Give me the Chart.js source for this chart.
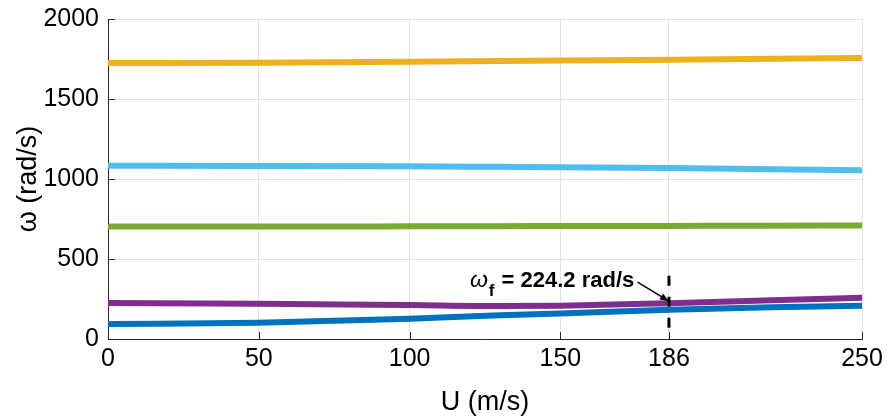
<!DOCTYPE html>
<html>
<head>
<meta charset="utf-8">
<script src="https://cdn.jsdelivr.net/npm/chart.js@4/dist/chart.umd.min.js"></script>
<style>
  html, body { margin: 0; padding: 0; background: #ffffff; overflow: hidden; }
  canvas { display: block; }
</style>
</head>
<body>
<canvas id="c" width="888" height="420"></canvas>
<script>
// ---- data ----
const U = [0, 50, 100, 130, 150, 186, 220, 250];
const mode1 = [94, 102, 127, 148, 160, 183, 198, 208];       // blue
const mode2 = [225, 221, 212, 206, 208, 224, 242, 258];      // purple
const mode3 = [703, 703, 704, 705, 706, 707, 708, 710];      // green
const mode4 = [1083, 1082, 1079, 1076, 1074, 1068, 1061, 1055]; // light blue
const mode5 = [1725, 1727, 1733, 1737, 1740, 1745, 1751, 1757]; // yellow
const xTicks = [0, 50, 100, 150, 186, 250];
const yTicks = [0, 500, 1000, 1500, 2000];
const flutterU = 186;
const flutterLine = [70, 412];
const flutterLabel = "= 224.2 rad/s";

const FONT = "'Liberation Sans', Arial, Helvetica, sans-serif";

function pts(ys) { return U.map((u, i) => ({ x: u, y: ys[i] })); }
function series(ys, color) {
  return {
    data: pts(ys), borderColor: color, backgroundColor: color,
    borderWidth: 6, pointRadius: 0, cubicInterpolationMode: 'monotone',
    borderCapStyle: 'round', order: 1
  };
}

const innerTicks = {
  id: 'innerTicks',
  afterDraw(chart) {
    const ctx = chart.ctx, xs = chart.scales.x, ys = chart.scales.y;
    const a = chart.chartArea;
    ctx.save();
    ctx.strokeStyle = '#262626';
    ctx.lineWidth = 1;
    ctx.beginPath();
    yTicks.forEach(v => {
      const y = Math.round(ys.getPixelForValue(v)) + 0.5;
      ctx.moveTo(a.left, y); ctx.lineTo(a.left + 7, y);
    });
    xTicks.forEach(v => {
      const x = Math.round(xs.getPixelForValue(v)) + 0.5;
      ctx.moveTo(x, a.bottom); ctx.lineTo(x, a.bottom - 7);
    });
    ctx.stroke();
    ctx.restore();
  }
};

const annot = {
  id: 'annot',
  afterDatasetsDraw(chart) {
    const ctx = chart.ctx, xs = chart.scales.x, ys = chart.scales.y;
    ctx.save();
    ctx.fillStyle = '#000';
    ctx.strokeStyle = '#000';
    const right = xs.getPixelForValue(174.5);
    const base = ys.getPixelForValue(325);
    const f1 = "italic 23px " + FONT, f2 = "bold 17px " + FONT, f3 = "bold 22px " + FONT;
    ctx.font = f1; const w1 = ctx.measureText('ω').width;
    ctx.font = f2; const w2 = ctx.measureText('f').width;
    ctx.font = f3; const w3 = ctx.measureText(' ' + flutterLabel).width;
    let x = right - (w1 + w2 + 2 + w3);
    ctx.textBaseline = 'alphabetic';
    ctx.textAlign = 'left';
    ctx.font = f1; ctx.fillText('ω', x, base); x += w1 + 1;
    ctx.font = f2; ctx.fillText('f', x, base + 9); x += w2 + 1;
    ctx.font = f3; ctx.fillText(' ' + flutterLabel, x, base);
    // arrow
    const x0 = xs.getPixelForValue(175.6), y0 = ys.getPixelForValue(356);
    const x1 = xs.getPixelForValue(185.8), y1 = ys.getPixelForValue(238);
    ctx.lineWidth = 1.5;
    ctx.beginPath(); ctx.moveTo(x0, y0); ctx.lineTo(x1, y1); ctx.stroke();
    const ang = Math.atan2(y1 - y0, x1 - x0), L = 9, W = 0.4;
    ctx.beginPath();
    ctx.moveTo(x1, y1);
    ctx.lineTo(x1 - L * Math.cos(ang - W), y1 - L * Math.sin(ang - W));
    ctx.lineTo(x1 - L * Math.cos(ang + W), y1 - L * Math.sin(ang + W));
    ctx.closePath(); ctx.fill();
    ctx.restore();
  }
};

new Chart(document.getElementById('c'), {
  type: 'line',
  data: {
    datasets: [
      series(mode1, '#0072BD'),
      series(mode2, '#7E2F8E'),
      series(mode3, '#77AC30'),
      series(mode4, '#4DBEEE'),
      series(mode5, '#EDB120'),
      {
        data: [{ x: flutterU, y: flutterLine[0] }, { x: flutterU, y: flutterLine[1] }],
        borderColor: '#000', borderWidth: 3, borderDash: [10, 11],
        pointRadius: 0, order: 0
      }
    ]
  },
  options: {
    responsive: false,
    animation: false,
    devicePixelRatio: 1,
    layout: { padding: { top: 19, right: 26, left: 0, bottom: 0 } },
    plugins: { legend: { display: false }, tooltip: { enabled: false } },
    scales: {
      x: {
        type: 'linear', min: 0, max: 250,
        afterBuildTicks(s) { s.ticks = xTicks.map(v => ({ value: v })); },
        afterFit(s) { s.height = 81; s.paddingLeft = 0; s.paddingRight = 0; },
        grid: { color: '#e3e3e3', drawTicks: false, lineWidth: 1 },
        border: { color: '#262626', width: 1 },
        ticks: { color: '#000', font: { family: FONT, size: 25 }, padding: 5, maxRotation: 0, autoSkip: false,
                 callback: v => String(v) },
        title: { display: true, text: 'U (m/s)', color: '#000', font: { family: FONT, size: 27 }, padding: { top: 1, bottom: 1 } }
      },
      y: {
        type: 'linear', min: 0, max: 2000,
        afterBuildTicks(s) { s.ticks = yTicks.map(v => ({ value: v })); },
        afterFit(s) { s.width = 108; s.paddingTop = 0; s.paddingBottom = 0; },
        grid: { color: '#e3e3e3', drawTicks: false, lineWidth: 1 },
        border: { color: '#262626', width: 1 },
        ticks: { color: '#000', font: { family: FONT, size: 25 }, padding: 9, callback: v => String(v) },
        title: { display: true, text: 'ω (rad/s)', color: '#000', font: { family: FONT, size: 27 }, padding: { top: 12, bottom: 0 } }
      }
    }
  },
  plugins: [innerTicks, annot]
});
</script>
</body>
</html>
